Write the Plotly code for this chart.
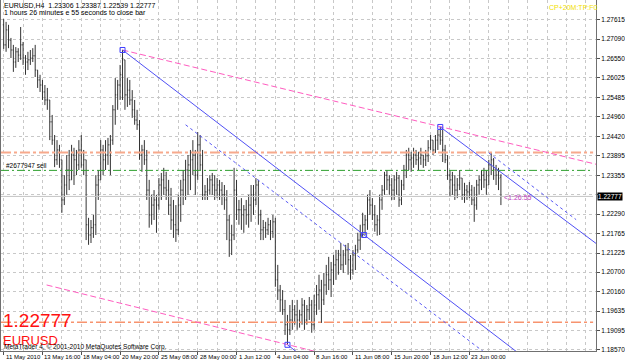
import plotly.graph_objects as go

# ---------------- data ----------------
bar_index = list(range(206))

opens = [1.2748, 1.2693, 1.2734, 1.2706, 1.2679, 1.2646, 1.2674, 1.2665, 1.2693, 1.2657,
         1.2646, 1.2652, 1.2657, 1.2663, 1.2624, 1.2597, 1.2583, 1.2564, 1.2542, 1.2542,
         1.2482, 1.2432, 1.2378, 1.2405, 1.2378, 1.2268, 1.2309, 1.2350, 1.2323, 1.2391,
         1.2378, 1.2364, 1.2405, 1.2364, 1.2378, 1.2200, 1.2172, 1.2192, 1.2200, 1.2309,
         1.2323, 1.2405, 1.2378, 1.2391, 1.2419, 1.2432, 1.2515, 1.2556, 1.2583, 1.2611,
         1.2652, 1.2556, 1.2569, 1.2542, 1.2515, 1.2487, 1.2474, 1.2391, 1.2405, 1.2378,
         1.2295, 1.2227, 1.2254, 1.2268, 1.2254, 1.2309, 1.2323, 1.2301, 1.2295, 1.2254,
         1.2213, 1.2200, 1.2186, 1.2254, 1.2295, 1.2323, 1.2350, 1.2364, 1.2378, 1.2391,
         1.2336, 1.2419, 1.2364, 1.2282, 1.2290, 1.2295, 1.2323, 1.2309, 1.2295, 1.2309,
         1.2295, 1.2282, 1.2268, 1.2213, 1.2158, 1.2172, 1.2295, 1.2241, 1.2241, 1.2227,
         1.2241, 1.2227, 1.2254, 1.2282, 1.2268, 1.2309, 1.2227, 1.2186, 1.2192, 1.2186,
         1.2200, 1.2181, 1.2208, 1.2049, 1.2021, 1.1994, 1.1967, 1.1926, 1.1912, 1.1939,
         1.1967, 1.1953, 1.1939, 1.1953, 1.1980, 1.1939, 1.1967, 1.1980, 1.1926, 1.1980,
         1.2008, 1.2021, 1.1994, 1.2035, 1.2063, 1.2049, 1.2076, 1.2090, 1.2104, 1.2117,
         1.2090, 1.2117, 1.2131, 1.2104, 1.2076, 1.2117, 1.2131, 1.2158, 1.2172, 1.2200,
         1.2213, 1.2268, 1.2254, 1.2227, 1.2200, 1.2213, 1.2268, 1.2295, 1.2336, 1.2323,
         1.2309, 1.2295, 1.2323, 1.2328, 1.2268, 1.2309, 1.2350, 1.2391, 1.2378, 1.2383,
         1.2391, 1.2378, 1.2383, 1.2391, 1.2378, 1.2389, 1.2411, 1.2432, 1.2405, 1.2432,
         1.2446, 1.2432, 1.2405, 1.2378, 1.2336, 1.2323, 1.2309, 1.2295, 1.2309, 1.2328,
         1.2282, 1.2295, 1.2290, 1.2295, 1.2268, 1.2254, 1.2309, 1.2323, 1.2336, 1.2323,
         1.2309, 1.2364, 1.2378, 1.2350, 1.2336, 1.23306]

highs = [1.2764, 1.2756, 1.2748, 1.2712, 1.2693, 1.2687, 1.2684, 1.2742, 1.2701, 1.2665,
         1.2674, 1.2679, 1.2684, 1.2693, 1.2624, 1.2611, 1.2597, 1.2583, 1.2575, 1.2542,
         1.2501, 1.2446, 1.2432, 1.2419, 1.2378, 1.2336, 1.2391, 1.2405, 1.2419, 1.2411,
         1.2405, 1.2432, 1.2446, 1.2405, 1.2378, 1.2219, 1.2213, 1.2227, 1.2336, 1.2350,
         1.2432, 1.2419, 1.2432, 1.2438, 1.2446, 1.2528, 1.2602, 1.2597, 1.2638, 1.2679,
         1.2652, 1.2602, 1.2597, 1.2569, 1.2542, 1.2515, 1.2487, 1.2419, 1.2432, 1.2405,
         1.2323, 1.2282, 1.2295, 1.2282, 1.2328, 1.2342, 1.2356, 1.2345, 1.2323, 1.2301,
         1.2268, 1.2254, 1.2282, 1.2323, 1.2350, 1.2378, 1.2391, 1.2405, 1.2432, 1.2405,
         1.2454, 1.2446, 1.2405, 1.2309, 1.2328, 1.2336, 1.2342, 1.2336, 1.2328, 1.2323,
         1.2317, 1.2309, 1.2295, 1.2227, 1.2200, 1.2356, 1.2323, 1.2268, 1.2273, 1.2254,
         1.2268, 1.2282, 1.2309, 1.2309, 1.2328, 1.2323, 1.2241, 1.2213, 1.2208, 1.2219,
         1.2213, 1.2227, 1.2219, 1.2090, 1.2035, 1.2021, 1.1994, 1.1953, 1.1980, 1.1994,
         1.1980, 1.1994, 1.1967, 1.1999, 1.1994, 1.1980, 1.2002, 1.1994, 1.2008, 1.2035,
         1.2063, 1.2049, 1.2068, 1.2090, 1.2112, 1.2098, 1.2117, 1.2131, 1.2131, 1.2150,
         1.2131, 1.2145, 1.2150, 1.2117, 1.2131, 1.2145, 1.2178, 1.2200, 1.2233, 1.2227,
         1.2282, 1.2295, 1.2273, 1.2254, 1.2227, 1.2282, 1.2309, 1.2345, 1.2350, 1.2336,
         1.2328, 1.2336, 1.2345, 1.2336, 1.2323, 1.2364, 1.2405, 1.2411, 1.2400, 1.2411,
         1.2405, 1.2400, 1.2411, 1.2391, 1.2405, 1.2432, 1.2446, 1.2432, 1.2446, 1.2460,
         1.2468, 1.2460, 1.2419, 1.2391, 1.2350, 1.2345, 1.2336, 1.2328, 1.2350, 1.2328,
         1.2315, 1.2309, 1.2317, 1.2309, 1.2304, 1.2323, 1.2336, 1.2350, 1.2356, 1.2350,
         1.2378, 1.2397, 1.2383, 1.2364, 1.2356, 1.23387]

lows = [1.2682, 1.2674, 1.2684, 1.2657, 1.2619, 1.2630, 1.2646, 1.2652, 1.2638, 1.2611,
        1.2624, 1.2638, 1.2646, 1.2605, 1.2575, 1.2564, 1.2542, 1.2528, 1.2515, 1.2432,
        1.2419, 1.2358, 1.2364, 1.2356, 1.2233, 1.2254, 1.2282, 1.2295, 1.2323, 1.2309,
        1.2336, 1.2350, 1.2356, 1.2336, 1.2158, 1.2145, 1.2150, 1.2164, 1.2172, 1.2268,
        1.2323, 1.2336, 1.2350, 1.2364, 1.2336, 1.2419, 1.2474, 1.2515, 1.2542, 1.2542,
        1.2515, 1.2523, 1.2528, 1.2493, 1.2474, 1.2460, 1.2378, 1.2345, 1.2364, 1.2268,
        1.2192, 1.2200, 1.2213, 1.2178, 1.2241, 1.2268, 1.2282, 1.2268, 1.2227, 1.2186,
        1.2164, 1.2153, 1.2172, 1.2208, 1.2254, 1.2268, 1.2282, 1.2295, 1.2336, 1.2282,
        1.2323, 1.2350, 1.2268, 1.2268, 1.2268, 1.2282, 1.2282, 1.2268, 1.2273, 1.2268,
        1.2254, 1.2241, 1.2158, 1.2112, 1.2117, 1.2158, 1.2213, 1.2200, 1.2186, 1.2178,
        1.2200, 1.2192, 1.2208, 1.2227, 1.2254, 1.2200, 1.2158, 1.2158, 1.2164, 1.2172,
        1.2158, 1.2164, 1.2030, 1.1994, 1.1961, 1.1953, 1.1898, 1.1871, 1.1898, 1.1912,
        1.1926, 1.1912, 1.1918, 1.1926, 1.1912, 1.1926, 1.1939, 1.1904, 1.1912, 1.1953,
        1.1967, 1.1931, 1.1980, 1.2008, 1.2021, 1.2002, 1.2035, 1.2049, 1.2063, 1.2076,
        1.2068, 1.2090, 1.2063, 1.2049, 1.2063, 1.2076, 1.2123, 1.2131, 1.2167, 1.2172,
        1.2186, 1.2227, 1.2213, 1.2181, 1.2170, 1.2172, 1.2241, 1.2282, 1.2295, 1.2282,
        1.2268, 1.2268, 1.2282, 1.2249, 1.2254, 1.2295, 1.2328, 1.2350, 1.2345, 1.2356,
        1.2364, 1.2350, 1.2364, 1.2356, 1.2361, 1.2372, 1.2405, 1.2391, 1.2397, 1.2405,
        1.2419, 1.2372, 1.2369, 1.2323, 1.2276, 1.2282, 1.2268, 1.2273, 1.2295, 1.2268,
        1.2260, 1.2268, 1.2273, 1.2254, 1.2208, 1.2241, 1.2282, 1.2295, 1.2301, 1.2282,
        1.2309, 1.2336, 1.2323, 1.2309, 1.2295, 1.22539]

closes = [1.2693, 1.2734, 1.2706, 1.2679, 1.2646, 1.2674, 1.2665, 1.2693, 1.2657, 1.2646,
          1.2652, 1.2657, 1.2663, 1.2624, 1.2597, 1.2583, 1.2564, 1.2542, 1.2542, 1.2482,
          1.2432, 1.2378, 1.2405, 1.2378, 1.2268, 1.2309, 1.2350, 1.2323, 1.2391, 1.2378,
          1.2364, 1.2405, 1.2364, 1.2378, 1.2200, 1.2172, 1.2192, 1.2200, 1.2309, 1.2323,
          1.2405, 1.2378, 1.2391, 1.2419, 1.2432, 1.2515, 1.2556, 1.2583, 1.2611, 1.2652,
          1.2556, 1.2569, 1.2542, 1.2515, 1.2487, 1.2474, 1.2391, 1.2405, 1.2378, 1.2295,
          1.2227, 1.2254, 1.2268, 1.2254, 1.2309, 1.2323, 1.2301, 1.2295, 1.2254, 1.2213,
          1.2200, 1.2186, 1.2254, 1.2295, 1.2323, 1.2350, 1.2364, 1.2378, 1.2391, 1.2336,
          1.2419, 1.2364, 1.2282, 1.2290, 1.2295, 1.2323, 1.2309, 1.2295, 1.2309, 1.2295,
          1.2282, 1.2268, 1.2213, 1.2158, 1.2172, 1.2295, 1.2241, 1.2241, 1.2227, 1.2241,
          1.2227, 1.2254, 1.2282, 1.2268, 1.2309, 1.2227, 1.2186, 1.2192, 1.2186, 1.2200,
          1.2181, 1.2208, 1.2049, 1.2021, 1.1994, 1.1967, 1.1926, 1.1912, 1.1939, 1.1967,
          1.1953, 1.1939, 1.1953, 1.1980, 1.1939, 1.1967, 1.1980, 1.1926, 1.1980, 1.2008,
          1.2021, 1.1994, 1.2035, 1.2063, 1.2049, 1.2076, 1.2090, 1.2104, 1.2117, 1.2090,
          1.2117, 1.2131, 1.2104, 1.2076, 1.2117, 1.2131, 1.2158, 1.2172, 1.2200, 1.2213,
          1.2268, 1.2254, 1.2227, 1.2200, 1.2213, 1.2268, 1.2295, 1.2336, 1.2323, 1.2309,
          1.2295, 1.2323, 1.2328, 1.2268, 1.2309, 1.2350, 1.2391, 1.2378, 1.2383, 1.2391,
          1.2378, 1.2383, 1.2391, 1.2378, 1.2389, 1.2411, 1.2432, 1.2405, 1.2432, 1.2446,
          1.2432, 1.2405, 1.2378, 1.2336, 1.2323, 1.2309, 1.2295, 1.2309, 1.2328, 1.2282,
          1.2295, 1.2290, 1.2295, 1.2268, 1.2254, 1.2309, 1.2323, 1.2336, 1.2323, 1.2309,
          1.2364, 1.2378, 1.2350, 1.2336, 1.2328, 1.22777]

date_tick_idx = [0, 16, 32, 48, 64, 80, 96, 112, 128, 144, 160, 176, 192]
date_tick_text = ["11 May 2010", "13 May 16:00", "18 May 04:00", "20 May 20:00",
                  "25 May 08:00", "28 May 00:00", "1 Jun 12:00", "4 Jun 04:00",
                  "8 Jun 16:00", "11 Jun 08:00", "15 Jun 20:00", "18 Jun 12:00",
                  "23 Jun 00:00"]
grid_idx = list(range(0, 248, 8))

price_ticks = [1.27615, 1.27090, 1.26550, 1.26025, 1.25485, 1.24960, 1.24420, 1.23895,
               1.23355, 1.22830, 1.22290, 1.21765, 1.21225, 1.20700, 1.20160, 1.19635,
               1.19095, 1.18570]
price_tick_text = ["1.27615", "1.27090", "1.26550", "1.26025", "1.25485", "1.24960",
                   "1.24420", "1.23895", "1.23355", "", "1.22290", "1.21765", "1.21225",
                   "1.20700", "1.20160", "1.19635", "1.19095", "1.18570"]

bid_price = 1.22777
stop_level = 1.2398
order_level = 1.2349
target_level = 1.1933

# trend / channel lines (bar index, price)
blue_main_x, blue_main_y = [49, 215], [1.2679, 1.1834]
blue_upper_x, blue_upper_y = [180, 246], [1.2468, 1.2140]
blue_lower_x, blue_lower_y = [117, 125], [1.1871, 1.1830]
blue_dash1_x, blue_dash1_y = [75, 200], [1.2474, 1.1841]
blue_dash2_x, blue_dash2_y = [200, 236], [1.2397, 1.2214]
pink_up_x, pink_up_y = [49, 246], [1.2679, 1.2363]
pink_low_x, pink_low_y = [17.7, 135], [1.2035, 1.1842]
anchor_x = [49, 180, 117, 148.6]
anchor_y = [1.2679, 1.2468, 1.1871, 1.2172]

# ---------------- figure ----------------
X0, X1 = -1.1, 244.2
Y0, Y1 = 1.1854, 1.2816
PW, PH = 601, 351
FONT = "Liberation Sans, Arial, sans-serif"

fig = go.Figure()

def hline(level, color, width, dash):
    fig.add_trace(go.Scatter(x=[X0, 243.0], y=[level, level], mode="lines",
                             line=dict(color=color, width=width, dash=dash),
                             hoverinfo="skip"))

hline(bid_price, "#C4C4C4", 1, "solid")
hline(stop_level, "#F7A98C", 2, "10px,3px,3px,3px")
hline(order_level, "#2EA02E", 1, "8px,3px,2px,3px")
hline(target_level, "#F7936E", 1.5, "10px,3px,3px,3px")

def seg(xs, ys, color, dash, width=1):
    fig.add_trace(go.Scatter(x=xs, y=ys, mode="lines",
                             line=dict(color=color, width=width, dash=dash),
                             hoverinfo="skip"))

seg(pink_up_x, pink_up_y, "#FF5CC0", "6px,3px")
seg(pink_low_x, pink_low_y, "#FF5CC0", "6px,3px")

fig.add_trace(go.Ohlc(x=bar_index, open=opens, high=highs, low=lows, close=closes,
                      increasing=dict(line=dict(color="#333333", width=1)),
                      decreasing=dict(line=dict(color="#333333", width=1)),
                      tickwidth=0.35, hoverinfo="skip"))

seg(blue_main_x, blue_main_y, "#5050F5", "solid")
seg(blue_upper_x, blue_upper_y, "#5050F5", "solid")
seg(blue_lower_x, blue_lower_y, "#5050F5", "solid")
seg(blue_dash1_x, blue_dash1_y, "#5858F5", "3px,3px")
seg(blue_dash2_x, blue_dash2_y, "#5858F5", "3px,3px")

fig.add_trace(go.Scatter(x=anchor_x, y=anchor_y, mode="markers",
                         marker=dict(symbol="square-open", size=5,
                                     color="#4040FF", line=dict(width=1)),
                         hoverinfo="skip"))

def ann(text, px, py, size, color="black", bg=None):
    fig.add_annotation(text=text, xref="paper", yref="paper",
                       x=px / PW, y=1 - py / PH, xanchor="left", yanchor="middle",
                       showarrow=False, font=dict(size=size, color=color, family=FONT),
                       bgcolor=bg, borderpad=0)

ann("EURUSD,H4  1.23306 1.23387 1.22539 1.22777", 2, 5.7, 7)
ann("1 hours 26 minutes e 55 seconds to close bar", 2, 12.5, 7)
ann("CP+20M:TP:F0", 553, 8, 7, color="#F2E000")
ann("#2677947 sell", 4, 166, 6.5)
ann("<1:26:55", 507, 197.5, 7, color="#C040C0")
ann("1.22777", 1, 320.5, 19, color="#FF1010")
ann("EURUSD", 1, 340, 13, color="#FF1010")
ann("MetaTrader 4, \u00a9 2001-2010 MetaQuotes Software Corp.", 2, 347, 6.5)

# date labels, left aligned next to their tick
for i, t in zip(date_tick_idx, date_tick_text):
    fig.add_annotation(text=t, x=i, xref="x", y=0, yref="paper", yshift=-6,
                       xanchor="left", yanchor="middle", xshift=0, showarrow=False,
                       font=dict(size=6, color="black", family=FONT))

# bid price box on the axis
fig.add_annotation(text="1.22777", x=1, xref="paper", xanchor="left", xshift=1,
                   y=bid_price, yref="y", yanchor="middle", showarrow=False,
                   bgcolor="black", borderpad=0,
                   font=dict(size=6.5, color="white", family=FONT))

fig.update_layout(
    width=625, height=363,
    margin=dict(l=0, r=24, t=0, b=12),
    paper_bgcolor="white", plot_bgcolor="white",
    showlegend=False,
    font=dict(family=FONT, size=7, color="black"),
    xaxis=dict(range=[X0, X1], tickvals=date_tick_idx, showticklabels=False,
               ticks="outside", ticklen=3, tickcolor="#505050",
               showgrid=True, gridcolor="#C8C8C8", griddash="dot", gridwidth=1,
               minor=dict(tickvals=grid_idx, showgrid=True, gridcolor="#C8C8C8",
                          griddash="dot", ticks=""),
               showline=True, linecolor="#707070", linewidth=1, zeroline=False,
               rangeslider=dict(visible=False), fixedrange=True),
    yaxis=dict(range=[Y0, Y1], side="right", tickvals=price_ticks,
               ticktext=price_tick_text, ticks="outside", ticklen=3,
               tickcolor="#505050", tickfont=dict(size=6.5),
               showgrid=True, gridcolor="#C8C8C8", griddash="dot", gridwidth=1,
               showline=True, linecolor="#707070", linewidth=1, mirror=True,
               zeroline=False, fixedrange=True),
)

fig.write_html("out.html")
